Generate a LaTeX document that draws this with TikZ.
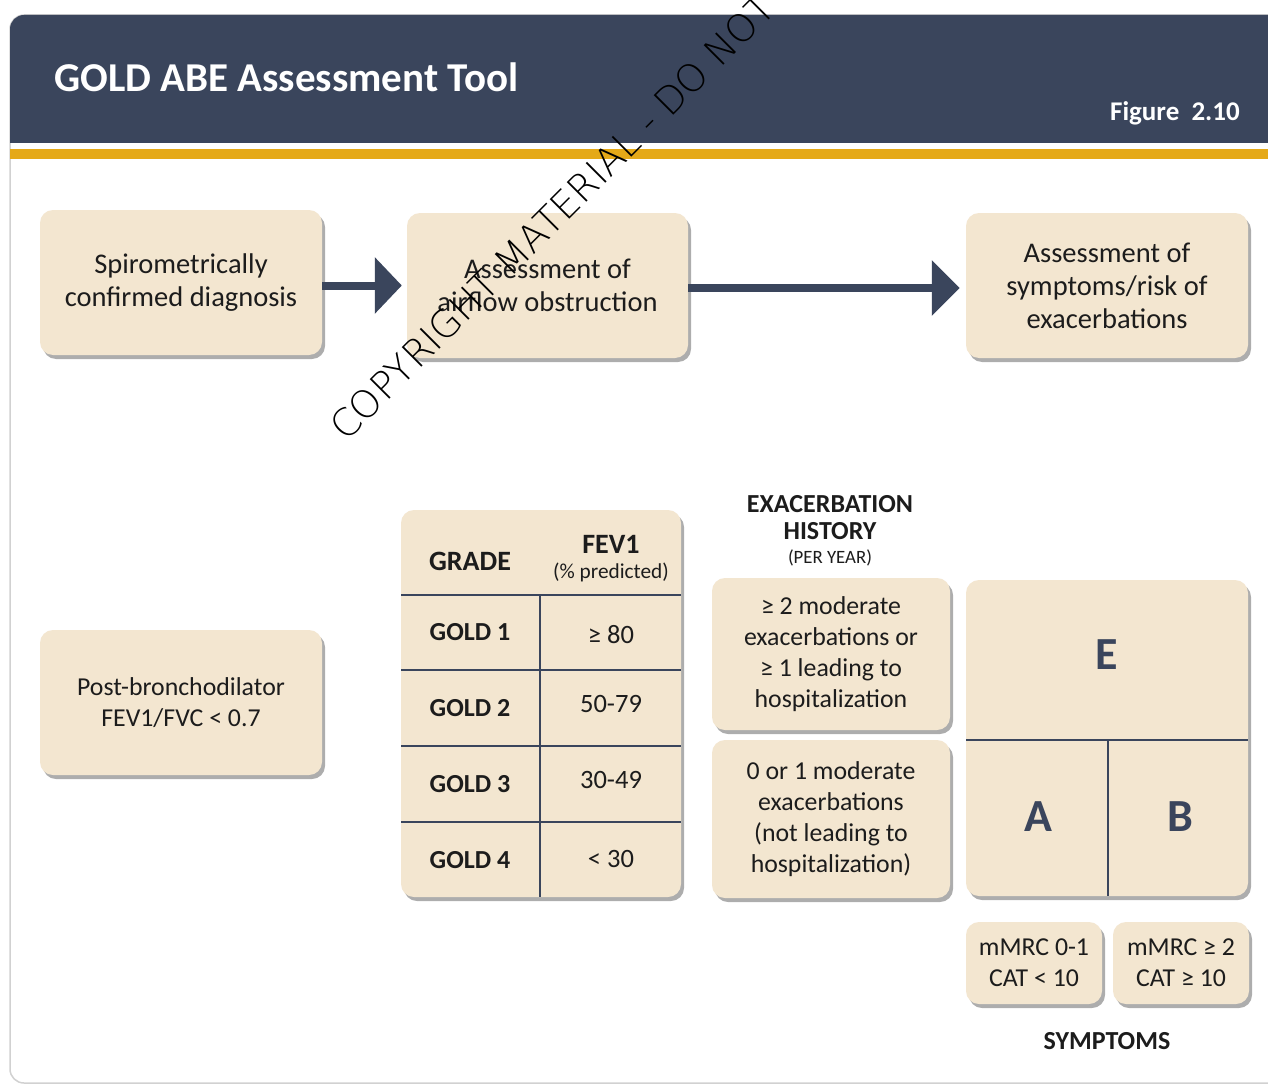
\documentclass[tikz,border=0pt]{standalone}
\usepackage{fontspec}
\setmainfont{Carlito}
\newfontfamily\wmfont{DejaVu Sans ExtraLight}
\usetikzlibrary{arrows.meta,shadows}
\definecolor{navy}{RGB}{58,69,92}
\definecolor{beige}{RGB}{243,230,208}
\definecolor{gold}{RGB}{229,169,24}
\definecolor{ink}{RGB}{28,28,28}
\tikzset{
  card/.style={rounded corners=13pt, fill=beige, draw=none,
    drop shadow={shadow xshift=3pt, shadow yshift=-4pt, fill=black, opacity=.32}},
  stepbox/.style={card, align=center, text=ink, inner sep=0pt,
    font=\fontsize{28.5}{33}\selectfont},
  cellbox/.style={card, align=center, text=ink, inner sep=0pt,
    font=\fontsize{25.8}{31}\selectfont},
  bigarrow/.style={draw=navy, line width=8pt},
  gridline/.style={draw=navy, line width=1.6pt},
  lbl/.style={text=ink, inner sep=0pt, align=center},
  boldlbl/.style={lbl, font=\bfseries\fontsize{26}{27}\selectfont},
  vallbl/.style={lbl, font=\fontsize{26.5}{27}\selectfont},
  letter/.style={text=navy, inner sep=0pt, font=\bfseries\fontsize{46}{46}\selectfont},
}
\begin{document}
\begin{tikzpicture}[x=1pt,y=-1pt]
\useasboundingbox (0,0) rectangle (1268,1086);
\fill[white] (0,0) rectangle (1268,1086);
% card
\draw[fill=white, draw=black!18, line width=1.5pt, rounded corners=14pt] (10,15) rectangle (1300,1083);
% header
\fill[navy] (10,143) {[rounded corners=14pt] -- (10,15) -- (1300,15)} -- (1300,143) -- cycle;
\fill[gold] (10,149) rectangle (1300,159);
\node[anchor=base west, text=white, inner sep=0pt, font=\bfseries\fontsize{41}{41}\selectfont] (title) at (54,92) {GOLD ABE Assessment Tool};
\node[anchor=base east, text=white, inner sep=0pt, font=\bfseries\fontsize{27}{27}\selectfont] (fig) at (1240,121) {Figure\ \ 2.10};

% top flow
\node[stepbox, minimum width=282pt, minimum height=145pt] (s1) at (181,282.5) {Spirometrically\\confirmed diagnosis};
\node[stepbox, minimum width=281pt, minimum height=145pt] (s2) at (547.5,285.5) {Assessment of\\airflow obstruction};
\node[stepbox, minimum width=282pt, minimum height=145pt] (s3) at (1107,285.5) {Assessment of\\symptoms/risk of\\exacerbations};
\draw[bigarrow, -{Triangle[length=27pt,width=55pt]}, shorten >=5pt] (s1.east |- s2.west) -- (s2.west);
\draw[bigarrow, -{Triangle[length=28pt,width=54pt]}, shorten >=6pt] (s2.east |- 0,288) -- (s3.west |- 0,288);

% post-bronchodilator
\node[cellbox, minimum width=282pt, minimum height=145pt] (post) at (181,702.5) {Post-bronchodilator\\FEV1/FVC {<} 0.7};

% FEV1 table
\node[card, minimum width=280pt, minimum height=387pt] (tbl) at (541,703.5) {};
\draw[gridline] (401,595) -- (681,595);
\draw[gridline] (401,670) -- (681,670);
\draw[gridline] (401,746) -- (681,746);
\draw[gridline] (401,822) -- (681,822);
\draw[gridline] (540,595) -- (540,897);
\node[boldlbl, font=\bfseries\fontsize{28}{28}\selectfont] (grade) at (470,561) {GRADE};
\node[boldlbl, font=\bfseries\fontsize{28}{28}\selectfont] (fev) at (611,544) {FEV1};
\node[lbl, font=\fontsize{21.3}{22}\selectfont] (pred) at (611,572) {(\% predicted)};
\node[boldlbl] (g1) at (470,632) {GOLD 1};
\node[boldlbl] (g2) at (470,708) {GOLD 2};
\node[boldlbl] (g3) at (470,784) {GOLD 3};
\node[boldlbl] (g4) at (470,860) {GOLD 4};
\node[vallbl] (v1) at (611,635) {≥ 80};
\node[vallbl] (v2) at (611,704) {50-79};
\node[vallbl] (v3) at (611,780) {30-49};
\node[vallbl] (v4) at (611,859) {{<} 30};

% exacerbation history
\node[boldlbl, font=\bfseries\fontsize{26}{27}\selectfont] (exh) at (830,518) {EXACERBATION\\HISTORY};
\node[lbl, font=\fontsize{18.8}{20}\selectfont] (py) at (830,558) {(PER YEAR)};
\node[cellbox, minimum width=238pt, minimum height=152pt] (e1) at (831,654) {≥ 2 moderate\\exacerbations or\\≥ 1 leading to\\hospitalization};
\node[cellbox, minimum width=238pt, minimum height=158pt] (e2) at (831,819) {0 or 1 moderate\\exacerbations\\(not leading to\\hospitalization)};

% ABE grid
\node[card, minimum width=282pt, minimum height=316pt] (grid) at (1107,738) {};
\draw[gridline] (966,740) -- (1248,740);
\draw[gridline] (1108,740) -- (1108,896);
\node[letter] (E) at (1107,655) {E};
\node[letter] (A) at (1038,817) {A};
\node[letter] (B) at (1180,817) {B};

% symptoms
\node[cellbox, minimum width=136pt, minimum height=82pt] (m1) at (1034,963) {mMRC 0-1\\CAT {<} 10};
\node[cellbox, minimum width=136pt, minimum height=82pt] (m2) at (1181,963) {mMRC ≥ 2\\CAT ≥ 10};
\node[boldlbl, font=\bfseries\fontsize{26}{27}\selectfont] (sym) at (1107,1041) {SYMPTOMS};

% watermark
\node[anchor=base west, rotate=45, inner sep=0pt, text=black, font=\wmfont\fontsize{38}{38}\selectfont] (wm) at (346,443) {COPYRIGHT MATERIAL - DO NOT};
\end{tikzpicture}
\end{document}
